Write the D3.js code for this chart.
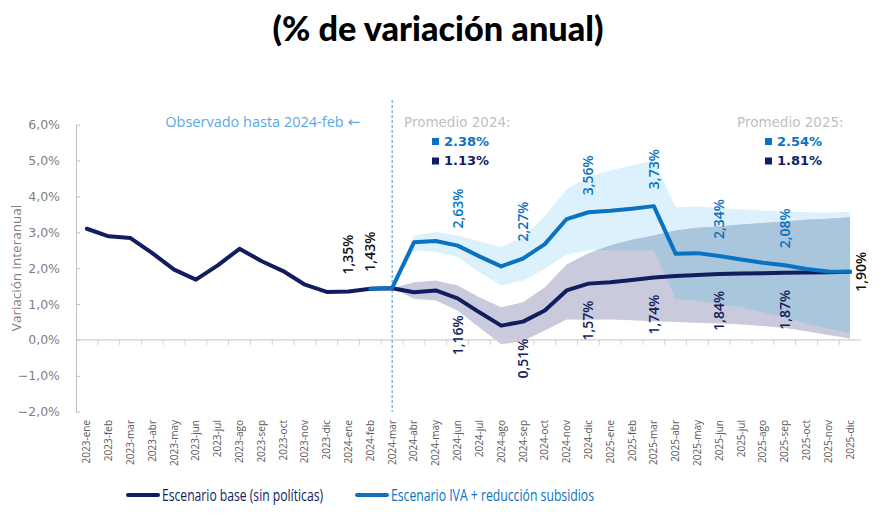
<!DOCTYPE html>
<html><head><meta charset="utf-8">
<script src="https://cdn.jsdelivr.net/npm/d3@7"></script>
<style>
body{margin:0;background:#fff;}
svg{display:block;}
</style></head>
<body>
<svg id="chart" width="882" height="517"></svg>
<script>
// ---------- DATA ----------
const categories = ["2023-ene","2023-feb","2023-mar","2023-abr","2023-may","2023-jun","2023-jul","2023-ago","2023-sep","2023-oct","2023-nov","2023-dic",
"2024-ene","2024-feb","2024-mar","2024-abr","2024-may","2024-jun","2024-jul","2024-ago","2024-sep","2024-oct","2024-nov","2024-dic",
"2025-ene","2025-feb","2025-mar","2025-abr","2025-may","2025-jun","2025-jul","2025-ago","2025-sep","2025-oct","2025-nov","2025-dic"];
const N = null;
const baseSeries = [3.10,2.89,2.84,2.42,1.96,1.68,2.08,2.54,2.20,1.92,1.54,1.34,
1.35,1.43,1.44,1.33,1.38,1.16,0.77,0.40,0.51,0.82,1.38,1.57,
1.61,1.67,1.74,1.78,1.81,1.84,1.85,1.86,1.87,1.88,1.89,1.90];
const ivaSeries = [N,N,N,N,N,N,N,N,N,N,N,N,
N,1.43,1.45,2.72,2.76,2.63,2.33,2.05,2.27,2.67,3.37,3.56,
3.60,3.66,3.73,2.40,2.42,2.34,2.24,2.15,2.08,1.98,1.91,1.90];
const ivaUpper = [N,N,N,N,N,N,N,N,N,N,N,N,
N,N,1.45,2.91,3.01,2.91,2.75,2.59,2.88,3.45,4.20,4.55,
4.72,4.87,5.00,3.70,3.72,3.68,3.64,3.61,3.58,3.56,3.55,3.57];
const ivaLower = [N,N,N,N,N,N,N,N,N,N,N,N,
N,N,1.45,2.49,2.45,2.31,1.89,1.52,1.66,1.98,2.38,2.50,
2.50,2.50,2.50,1.14,1.10,1.00,0.91,0.77,0.63,0.45,0.31,0.19];
const baseUpper = [N,N,N,N,N,N,N,N,N,N,N,N,
N,N,1.44,1.61,1.66,1.52,1.19,0.91,1.05,1.47,2.10,2.42,
2.63,2.79,2.91,3.05,3.13,3.16,3.22,3.26,3.30,3.35,3.38,3.42];
const baseLower = [N,N,N,N,N,N,N,N,N,N,N,N,
N,N,1.44,1.15,1.10,0.82,0.35,-0.12,-0.03,0.26,0.57,0.56,
0.57,0.55,0.52,0.50,0.48,0.46,0.43,0.39,0.33,0.24,0.14,0.04];
const yTicks = [-2,-1,0,1,2,3,4,5,6];
const ivaLabelIdx = [17,20,23,26,29,32];
const baseLabelIdx = [17,20,23,26,29,32];
const obsLabelIdx = [12,13];
const endLabelIdx = 35;
const avg2024 = {iva:"2.38%", base:"1.13%"};
const avg2025 = {iva:"2.54%", base:"1.81%"};
const legendNames = ["Escenario base (sin políticas)","Escenario IVA + reducción subsidios"];

// ---------- STYLE ----------
const NAVY = "#121d5f", BLUE = "#0a72c2", LIGHT = "#dcf1fb", GRAY = "#c9cbdd", OVER = "#a9c6dc";
const svg = d3.select("#chart");
const x = d3.scaleBand().domain(categories).range([76, 861]);
const cx = c => x(c) + x.bandwidth()/2;
const y = d3.scaleLinear().domain([-2, 6]).range([411.7, 124.7]);
const fmt = v => d3.format(".2f")(v).replace(".", ",") + "%";

// title
svg.append("text").attr("x", 438).attr("y", 41).attr("text-anchor","middle")
  .attr("font-family","Lato, 'Open Sans', sans-serif").attr("font-weight","900")
  .attr("font-size", 34).attr("fill","#000").attr("textLength",331).attr("lengthAdjust","spacingAndGlyphs")
  .text("(% de variación anual)");

// bands
const rows = categories.map((c,i)=>({c,i}));
const area = (up, lo) => d3.area().defined(d => up[d.i] != null)
  .x(d => cx(d.c)).y0(d => y(lo[d.i])).y1(d => y(up[d.i]));
svg.append("defs").append("clipPath").attr("id","baseClip")
  .append("path").attr("d", area(baseUpper, baseLower)(rows));
svg.append("path").attr("d", area(ivaUpper, ivaLower)(rows)).attr("fill", LIGHT);
svg.append("path").attr("d", area(baseUpper, baseLower)(rows)).attr("fill", GRAY);
svg.append("path").attr("d", area(ivaUpper, ivaLower)(rows)).attr("fill", OVER).attr("clip-path","url(#baseClip)");

// y axis
const yAxis = svg.append("g").attr("transform","translate(76,0)")
  .call(d3.axisLeft(y).tickValues(yTicks).tickSize(-4).tickSizeOuter(0).tickFormat(d => d3.format(".1f")(d).replace(".", ",") + "%"));
yAxis.select(".domain").attr("stroke","#bfbfbf");
yAxis.selectAll(".tick line").attr("stroke","#bfbfbf");
yAxis.selectAll(".tick text").attr("x",-16).attr("fill","#7f7f7f")
  .attr("font-family","'DejaVu Sans', sans-serif").attr("font-size",12.5);
svg.append("text").attr("transform","translate(21,268) rotate(-90)").attr("text-anchor","middle")
  .attr("font-family","'Open Sans', sans-serif").attr("font-size",13.5).attr("fill","#7f7f7f")
  .text("Variación interanual");

// x axis at zero
const xg = svg.append("g");
xg.append("line").attr("x1",76).attr("x2",861).attr("y1",y(0)).attr("y2",y(0)).attr("stroke","#d0d0d0").attr("stroke-width",1.2);
xg.selectAll("line.tk").data(categories.slice(1)).join("line").attr("class","tk")
  .attr("x1", c => x(c)).attr("x2", c => x(c)).attr("y1", y(0)).attr("y2", y(0)+5).attr("stroke","#d0d0d0");
xg.selectAll("text").data(categories).join("text")
  .attr("transform", c => `translate(${cx(c)},420) rotate(-90)`).attr("text-anchor","end").attr("dy","0.35em")
  .attr("font-family","'Open Sans', sans-serif").attr("font-size",10).attr("fill","#595959").text(c => c);

// dashed vertical marker
svg.append("line").attr("x1", cx("2024-mar")).attr("x2", cx("2024-mar")).attr("y1",100).attr("y2",412)
  .attr("stroke","#5aa9e6").attr("stroke-width",1.2).attr("stroke-dasharray","3,2");

// lines
const line = s => d3.line().defined(d => s[d.i] != null).x(d => cx(d.c)).y(d => y(s[d.i]));
svg.append("path").attr("d", line(baseSeries)(rows)).attr("fill","none").attr("stroke",NAVY)
  .attr("stroke-width",4).attr("stroke-linejoin","round").attr("stroke-linecap","round");
svg.append("path").attr("d", line(ivaSeries)(rows)).attr("fill","none").attr("stroke",BLUE)
  .attr("stroke-width",4).attr("stroke-linejoin","round").attr("stroke-linecap","round");

// data labels
const lab = (i, s, col, above) => svg.append("text")
  .attr("transform", `translate(${cx(categories[i])},${above ? y(s[i]) - 17 : y(s[i]) + 17}) rotate(-90)`)
  .attr("text-anchor", above ? "start" : "end").attr("dy","0.35em")
  .attr("font-family","'Open Sans', sans-serif").attr("font-size",14).attr("font-weight",600)
  .attr("fill", col).text(fmt(s[i]));
ivaLabelIdx.forEach(i => lab(i, ivaSeries, BLUE, true));
baseLabelIdx.forEach(i => lab(i, baseSeries, NAVY, false));
obsLabelIdx.forEach(i => lab(i, baseSeries, "#111", true));
svg.append("text").attr("transform", `translate(${cx(categories[endLabelIdx]) + 11},${y(baseSeries[endLabelIdx])}) rotate(-90)`)
  .attr("text-anchor","middle").attr("dy","0.35em")
  .attr("font-family","'Open Sans', sans-serif").attr("font-size",14).attr("font-weight",600)
  .attr("fill","#111").text(fmt(baseSeries[endLabelIdx]));

// annotations
const obs = svg.append("text").attr("x",360).attr("y",126.5).attr("text-anchor","end")
  .attr("font-family","'Open Sans', sans-serif").attr("font-size",14.5).attr("fill","#5aa9e6");
obs.append("tspan").text("Observado hasta 2024-feb ");
obs.append("tspan").attr("font-family","'DejaVu Sans', sans-serif").attr("font-size",15).text("\u2190");
function avgBlock(x0, title, vals){
  svg.append("text").attr("x",x0).attr("y",127).attr("font-family","'DejaVu Sans', sans-serif")
    .attr("font-size",13.5).attr("fill","#bfbfbf").text(title);
  [[vals.iva, BLUE, 145.5],[vals.base, NAVY, 165]].forEach(([t,c,by]) => {
    svg.append("rect").attr("x",x0+28).attr("y",by-7.5).attr("width",7).attr("height",7).attr("fill",c);
    svg.append("text").attr("x",x0+40).attr("y",by).attr("font-family","'DejaVu Sans', sans-serif")
      .attr("font-weight","bold").attr("font-size",13).attr("fill",c).text(t);
  });
}
avgBlock(404, "Promedio 2024:", avg2024);
avgBlock(737, "Promedio 2025:", avg2025);

// legend
const lg = [{x:128, col:NAVY, name:legendNames[0], len:161},{x:357, col:BLUE, name:legendNames[1], len:203}];
lg.forEach(d => {
  svg.append("line").attr("x1",d.x).attr("x2",d.x+30).attr("y1",495).attr("y2",495)
    .attr("stroke",d.col).attr("stroke-width",4).attr("stroke-linecap","round");
  svg.append("text").attr("x",d.x+34).attr("y",501).attr("font-family","'Open Sans', sans-serif")
    .attr("font-size",16.5).attr("fill",d.col).attr("textLength",d.len).attr("lengthAdjust","spacingAndGlyphs").text(d.name);
});
</script>
</body></html>
